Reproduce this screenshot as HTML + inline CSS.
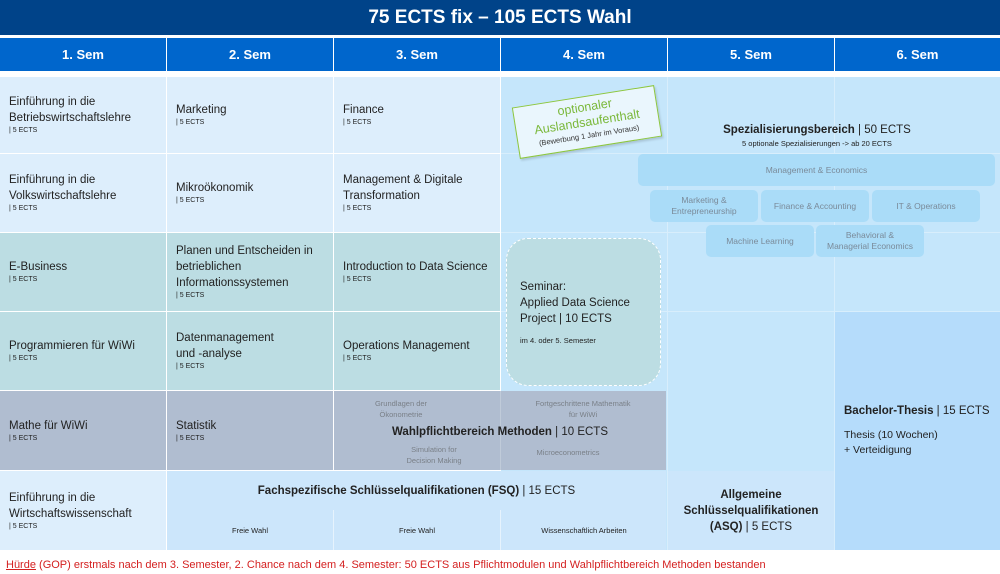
<!DOCTYPE html>
<html><head><meta charset="utf-8"><style>
body{margin:0;width:1000px;height:574px;position:relative;background:#fff;font-family:"Liberation Sans",sans-serif;overflow:hidden;color:#222}
.a{position:absolute;box-sizing:border-box}
.c{display:flex;flex-direction:column;justify-content:center;padding-left:9px;font-size:11.5px;line-height:16px}
.c small{font-size:7px;line-height:10px;display:block}
.h{background:#0066cc;color:#fff;font-weight:bold;font-size:13px;display:flex;align-items:center;justify-content:center}
.L{background:#ddeefc}.T{background:#bcdde3}.G{background:#b0bdd0}.B{background:#c5e6fb}
.p{background:#aadcf8;border-radius:5px;color:#7a8a99;font-size:8.5px;display:flex;align-items:center;justify-content:center;text-align:center;line-height:11px}
.g{color:#7a8088;font-size:7.5px;text-align:center;line-height:11px}
</style></head><body>
<div class="a" style="left:0;top:0;width:1000px;height:35px;background:#004389;color:#fff;font-weight:bold;font-size:19px;display:flex;align-items:center;justify-content:center">75 ECTS fix – 105 ECTS Wahl</div>
<div class="a h" style="left:0;top:38px;width:166px;height:33px">1. Sem</div>
<div class="a h" style="left:167px;top:38px;width:166px;height:33px">2. Sem</div>
<div class="a h" style="left:334px;top:38px;width:166px;height:33px">3. Sem</div>
<div class="a h" style="left:501px;top:38px;width:166px;height:33px">4. Sem</div>
<div class="a h" style="left:668px;top:38px;width:166px;height:33px">5. Sem</div>
<div class="a h" style="left:835px;top:38px;width:165px;height:33px">6. Sem</div>

<div class="a B" style="left:501px;top:77px;width:499px;height:473px"></div>
<div class="a" style="left:501px;top:153px;width:499px;height:1px;background:#d8eefc"></div>
<div class="a" style="left:501px;top:232px;width:499px;height:1px;background:#d8eefc"></div>
<div class="a" style="left:501px;top:311px;width:499px;height:1px;background:#d8eefc"></div>
<div class="a" style="left:667px;top:77px;width:1px;height:473px;background:#d8eefc"></div>
<div class="a" style="left:834px;top:77px;width:1px;height:473px;background:#d8eefc"></div>

<div class="a c L" style="left:0;top:77px;width:166px;height:76px">Einführung in die<br>Betriebswirtschaftslehre<small>| 5 ECTS</small></div>
<div class="a c L" style="left:0;top:154px;width:166px;height:78px">Einführung in die<br>Volkswirtschaftslehre<small>| 5 ECTS</small></div>
<div class="a c T" style="left:0;top:233px;width:166px;height:78px">E-Business<small>| 5 ECTS</small></div>
<div class="a c T" style="left:0;top:312px;width:166px;height:78px">Programmieren für WiWi<small>| 5 ECTS</small></div>
<div class="a c G" style="left:0;top:391px;width:166px;height:79px">Mathe für WiWi<small>| 5 ECTS</small></div>
<div class="a c L" style="left:0;top:471px;width:166px;height:79px">Einführung in die<br>Wirtschaftswissenschaft<small>| 5 ECTS</small></div>
<div class="a c L" style="left:167px;top:77px;width:166px;height:76px">Marketing<small>| 5 ECTS</small></div>
<div class="a c L" style="left:167px;top:154px;width:166px;height:78px">Mikroökonomik<small>| 5 ECTS</small></div>
<div class="a c T" style="left:167px;top:233px;width:166px;height:78px">Planen und Entscheiden in<br>betrieblichen<br>Informationssystemen<small>| 5 ECTS</small></div>
<div class="a c T" style="left:167px;top:312px;width:166px;height:78px">Datenmanagement<br>und -analyse<small>| 5 ECTS</small></div>
<div class="a c G" style="left:167px;top:391px;width:166px;height:79px">Statistik<small>| 5 ECTS</small></div>
<div class="a c L" style="left:334px;top:77px;width:166px;height:76px">Finance<small>| 5 ECTS</small></div>
<div class="a c L" style="left:334px;top:154px;width:166px;height:78px">Management &amp; Digitale<br>Transformation<small>| 5 ECTS</small></div>
<div class="a c T" style="left:334px;top:233px;width:166px;height:78px">Introduction to Data Science<small>| 5 ECTS</small></div>
<div class="a c T" style="left:334px;top:312px;width:166px;height:78px">Operations Management<small>| 5 ECTS</small></div>

<div class="a G" style="left:334px;top:391px;width:332px;height:79px"></div>
<div class="a" style="left:500px;top:391px;width:1px;height:79px;background:#c0cbd9"></div>
<div class="a g" style="left:334px;top:398px;width:134px">Grundlagen der<br>Ökonometrie</div>
<div class="a g" style="left:500px;top:398px;width:166px">Fortgeschrittene Mathematik<br>für WiWi</div>
<div class="a" style="left:334px;top:426px;width:332px;text-align:center;font-size:11.5px"><b>Wahlpflichtbereich Methoden</b> | 10 ECTS</div>
<div class="a g" style="left:334px;top:444px;width:200px">Simulation for<br>Decision Making</div>
<div class="a g" style="left:500px;top:447px;width:136px">Microeconometrics</div>

<div class="a" style="left:167px;top:471px;width:499px;height:79px;background:#cce6fb"></div>
<div class="a" style="left:333px;top:510px;width:1px;height:40px;background:#e6f3fd"></div>
<div class="a" style="left:500px;top:510px;width:1px;height:40px;background:#e6f3fd"></div>
<div class="a" style="left:167px;top:485px;width:499px;text-align:center;font-size:11.5px"><b>Fachspezifische Schlüsselqualifikationen (FSQ)</b> | 15 ECTS</div>
<div class="a" style="left:167px;top:526px;width:166px;text-align:center;font-size:7.5px">Freie Wahl</div>
<div class="a" style="left:334px;top:526px;width:166px;text-align:center;font-size:7.5px">Freie Wahl</div>
<div class="a" style="left:501px;top:526px;width:166px;text-align:center;font-size:7.5px">Wissenschaftlich Arbeiten</div>

<div class="a" style="left:668px;top:471px;width:166px;height:79px;background:#cce6fb;display:flex;align-items:center;justify-content:center;text-align:center;font-size:11.5px;line-height:16px"><div><b>Allgemeine<br>Schlüsselqualifikationen<br>(ASQ)</b> | 5 ECTS</div></div>

<div class="a" style="left:835px;top:312px;width:165px;height:238px;background:#b5dcfb;padding:92px 0 0 9px;font-size:11.5px;line-height:15px"><b>Bachelor-Thesis</b> | 15 ECTS<div style="margin-top:9px;font-size:10.5px">Thesis (10 Wochen)<br>+ Verteidigung</div></div>

<div class="a" style="left:506px;top:238px;width:155px;height:148px;background:#bcdde3;border:1.5px dashed #fff;border-radius:22px;padding:40px 0 0 13px;font-size:11.5px;line-height:16px">Seminar:<br>Applied Data Science<br>Project | 10 ECTS<div style="font-size:7.5px;margin-top:6px">im 4. oder 5. Semester</div></div>

<div class="a" style="left:634px;top:124px;width:366px;text-align:center;font-size:11.5px"><b>Spezialisierungsbereich</b> | 50 ECTS</div>
<div class="a" style="left:634px;top:139px;width:366px;text-align:center;font-size:7.5px">5 optionale Spezialisierungen -&gt; ab 20 ECTS</div>
<div class="a p" style="left:638px;top:154px;width:357px;height:32px">Management &amp; Economics</div>
<div class="a p" style="left:650px;top:190px;width:108px;height:32px">Marketing &amp;<br>Entrepreneurship</div>
<div class="a p" style="left:761px;top:190px;width:108px;height:32px">Finance &amp; Accounting</div>
<div class="a p" style="left:872px;top:190px;width:108px;height:32px">IT &amp; Operations</div>
<div class="a p" style="left:706px;top:225px;width:108px;height:32px">Machine Learning</div>
<div class="a p" style="left:816px;top:225px;width:108px;height:32px">Behavioral &amp;<br>Managerial Economics</div>

<div class="a" style="left:515px;top:96px;width:144px;height:52px;background:#eaf6fd;border:1.5px solid #8cc63f;transform:rotate(-9deg);text-align:center;color:#7ab83a;font-size:12.5px;line-height:15px;padding-top:3px;box-shadow:1px 2px 2px rgba(0,0,0,.15)">optionaler<br>Auslandsaufenthalt<div style="color:#333;font-size:7.5px;line-height:11px">(Bewerbung 1 Jahr im Voraus)</div></div>

<div class="a" style="left:6px;top:559px;font-size:11px;color:#d42020;white-space:nowrap"><u>Hürde</u> (GOP) erstmals nach dem 3. Semester, 2. Chance nach dem 4. Semester: 50 ECTS aus Pflichtmodulen und Wahlpflichtbereich Methoden bestanden</div>
</body></html>
